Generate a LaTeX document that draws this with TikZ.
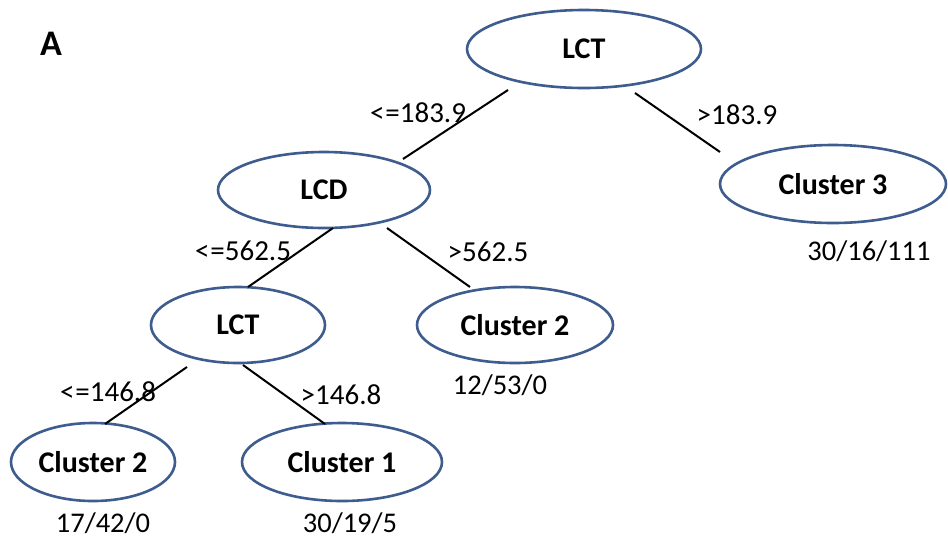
\documentclass[tikz,border=0pt]{standalone}
\usepackage{fontspec}
\setmainfont{Carlito}
\usetikzlibrary{shapes.geometric,calc}
\definecolor{ellblue}{RGB}{62,92,142}
\begin{document}
\begin{tikzpicture}[x=1pt,y=-1pt,
  ell/.style={draw=ellblue, line width=2.6pt, ellipse, fill=white, inner sep=0pt,
    font=\fontsize{30}{32}\selectfont\bfseries},
  lbl/.style={inner sep=0pt, font=\fontsize{29}{31}\selectfont},
  cnt/.style={inner sep=0pt, font=\fontsize{28.5}{31}\selectfont},
  edge/.style={draw=black, line width=2pt}]
\useasboundingbox (0,0) rectangle (948,542);
\fill[white] (0,0) rectangle (948,542);
\node[inner sep=0pt, font=\fontsize{36}{38}\selectfont\bfseries] (A) at (51,44) {A};
% nodes
\node[ell, minimum width=234pt, minimum height=78pt] (root) at (584,49) {LCT};
\node[ell, minimum width=212pt, minimum height=76pt] (lcd) at (324,190) {LCD};
\node[ell, minimum width=226pt, minimum height=78pt] (c3) at (833,184) {Cluster 3};
\node[ell, minimum width=174pt, minimum height=76pt] (lct2) at (238,325) {LCT};
\node[ell, minimum width=196pt, minimum height=76pt] (c2m) at (515,325) {Cluster 2};
\node[ell, minimum width=164pt, minimum height=78pt] (c2b) at (93,462) {Cluster 2};
\node[ell, minimum width=200pt, minimum height=78pt] (c1) at (342,462) {Cluster 1};
% connectors
\draw[edge] ($(root.center)+(-76,41)$) -- ($(lcd.center)+(79,-31)$);
\draw[edge] ($(root.center)+(51,44)$) -- ($(c3.center)+(-113,-32)$);
\draw[edge] ($(lcd.center)+(9,38)$) -- ($(lct2.center)+(10,-38)$);
\draw[edge] ($(lcd.center)+(63,38)$) -- ($(c2m.center)+(-45,-38)$);
\draw[edge] ($(lct2.center)+(-51,42)$) -- ($(c2b.center)+(12,-38)$);
\draw[edge] ($(lct2.center)+(5,40)$) -- ($(c1.center)+(-17,-38)$);
% edge labels
\node[lbl] (l1) at (418,113) {<\kern1pt=183.9};
\node[lbl] (l2) at (737,115) {>183.9};
\node[lbl] (l3) at (243,251) {<\kern1pt=562.5};
\node[lbl] (l4) at (488,252) {>562.5};
\node[lbl] (l5) at (108,392) {<\kern1pt=146.8};
\node[lbl] (l6) at (341,395) {>146.8};
% counts
\node[cnt] (n3) at (869,251) {30/16/111};
\node[cnt] (n2m) at (500,385) {12/53/0};
\node[cnt] (n2b) at (103,523) {17/42/0};
\node[cnt] (n1) at (350,523) {30/19/5};
\end{tikzpicture}
\end{document}
